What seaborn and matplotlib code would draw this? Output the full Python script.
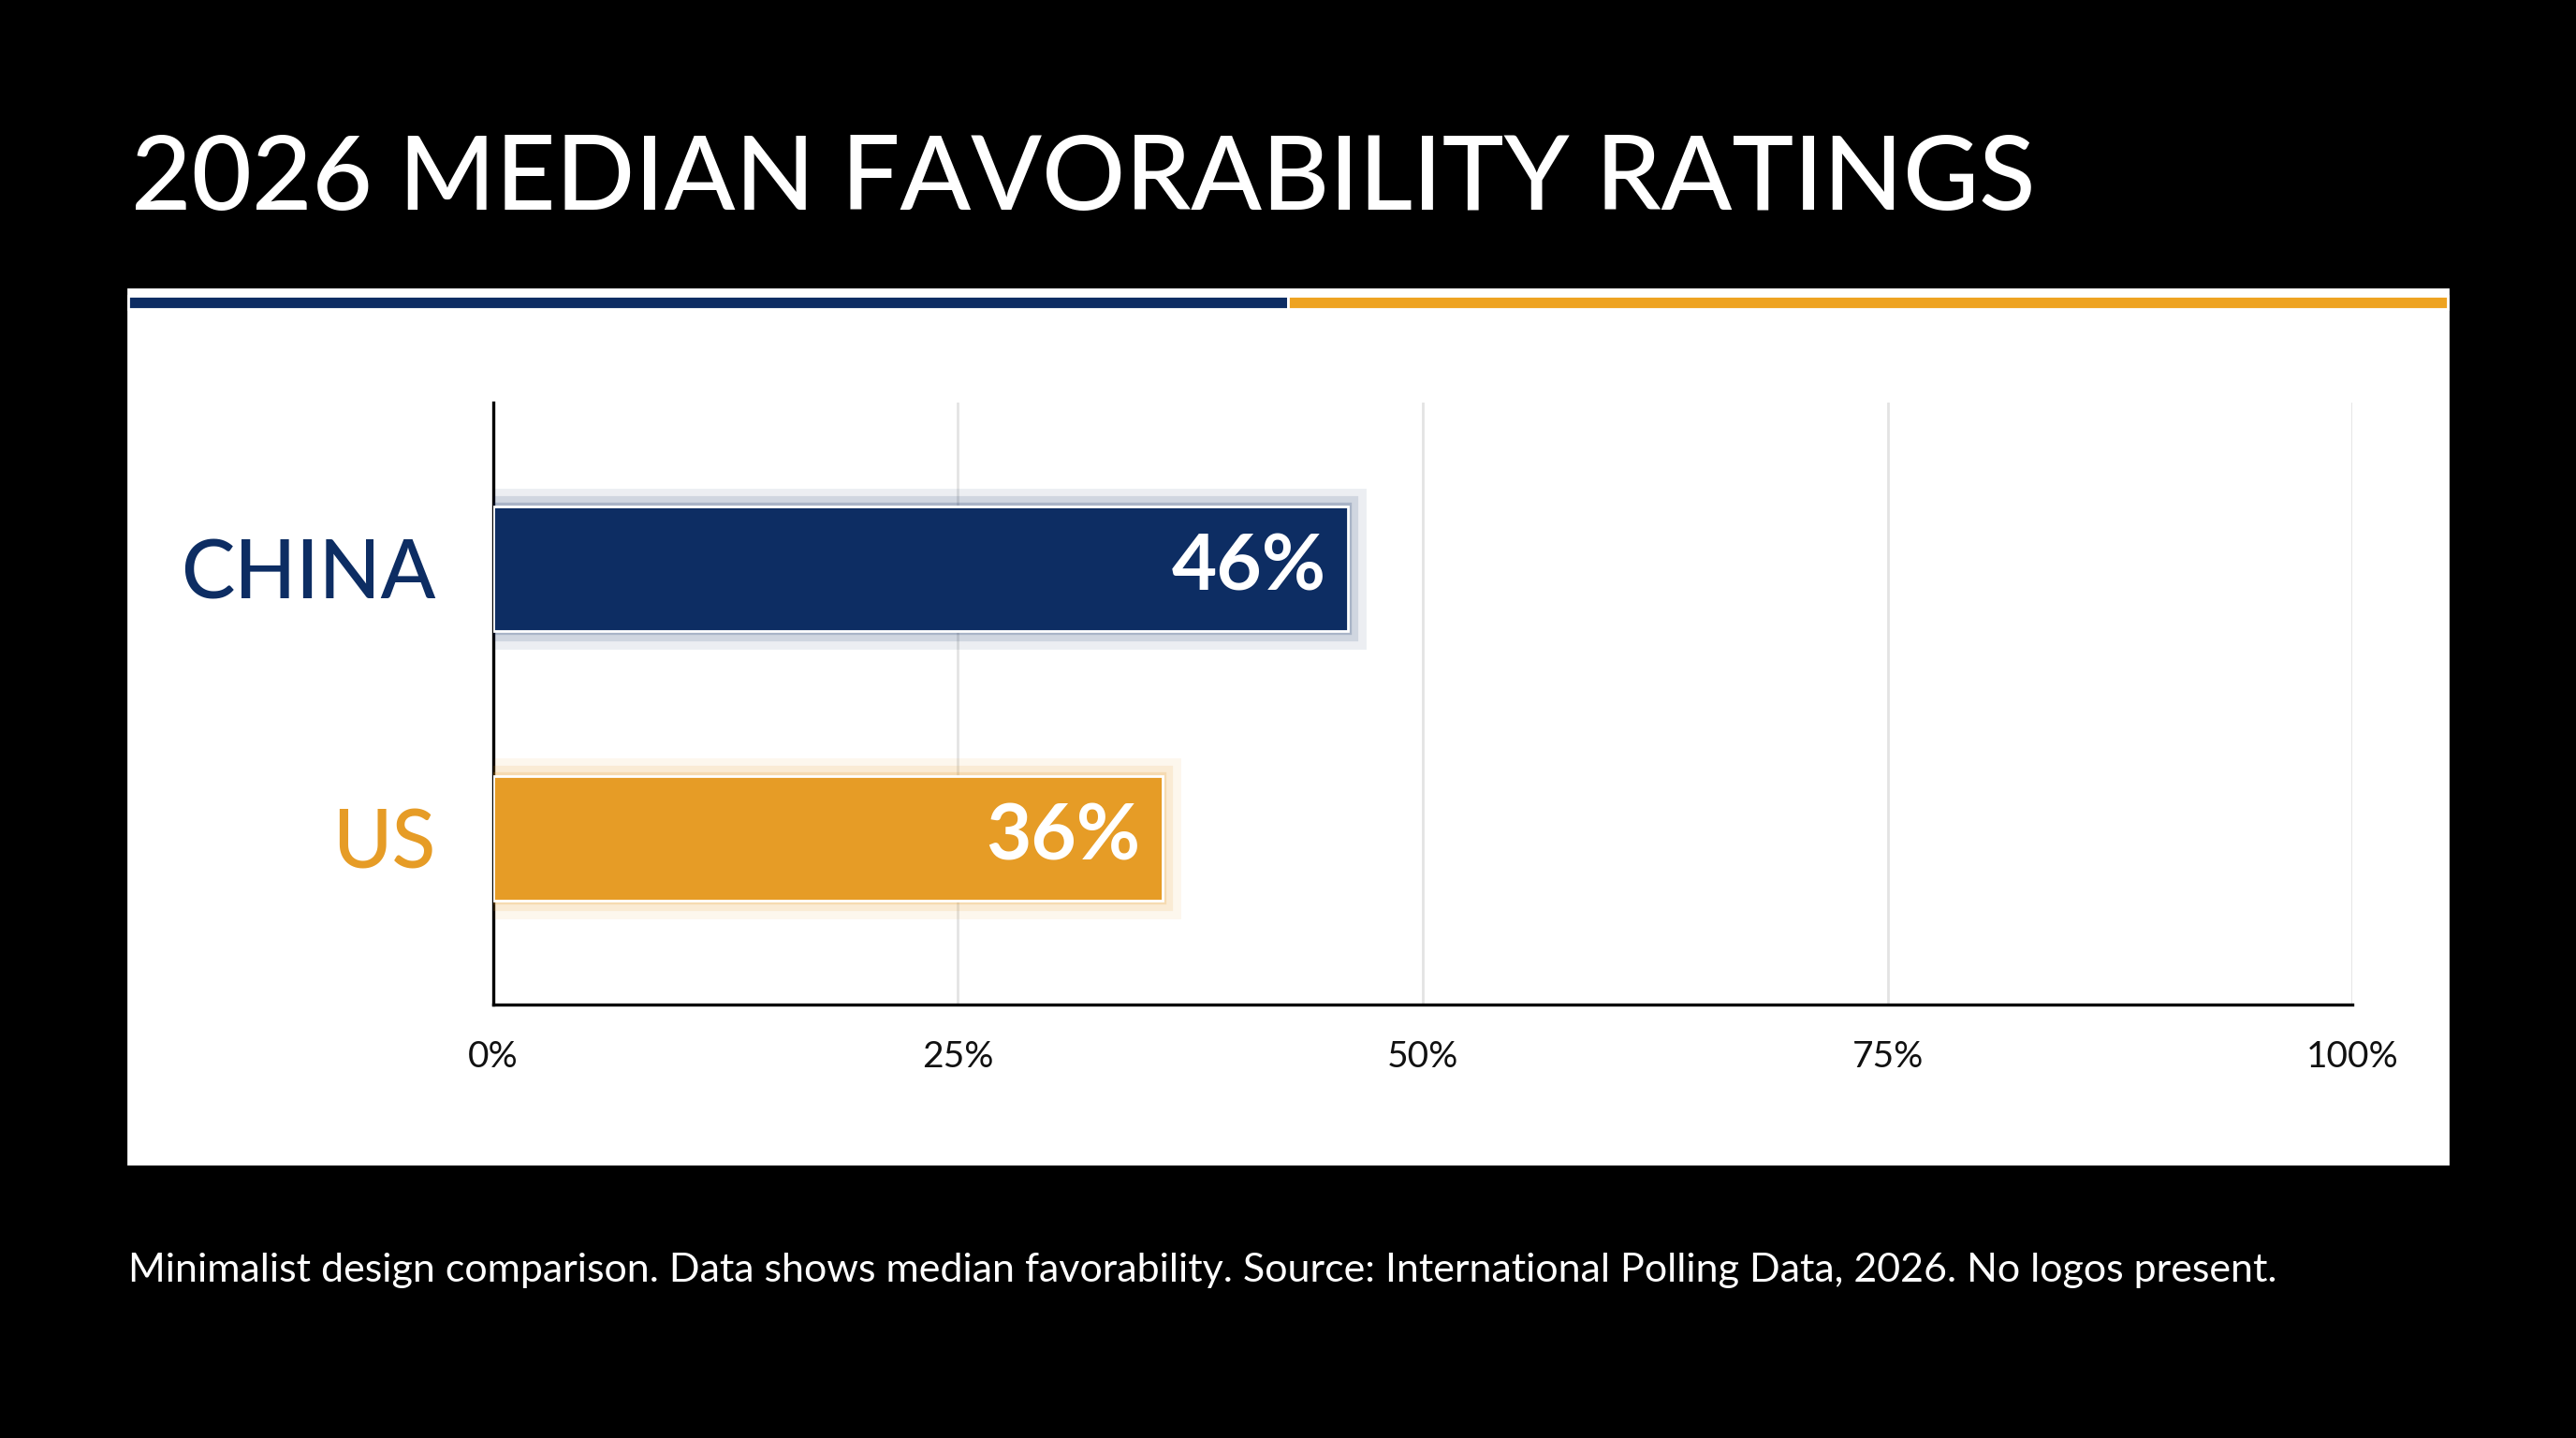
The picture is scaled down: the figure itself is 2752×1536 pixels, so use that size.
import matplotlib
matplotlib.use("Agg")
import matplotlib.pyplot as plt
import matplotlib.patheffects as pe
from matplotlib.patches import Rectangle
import seaborn as sns
import pandas as pd

categories = ["CHINA", "US"]
values = [46, 36]
colors = ["#0d2d63", "#e69c26"]
ticks = [0, 25, 50, 75, 100]
tick_labels = ["0%", "25%", "50%", "75%", "100%"]
title = "2026 MEDIAN FAVORABILITY RATINGS"
footer = "Minimalist design comparison. Data shows median favorability. Source: International Polling Data, 2026. No logos present."

sns.set_style("white")
plt.rcParams['font.family'] = ['Lato', 'DejaVu Sans']

fig = plt.figure(figsize=(13.76, 7.68), dpi=200)
fig.patch.set_facecolor("black")
W, H = 1568, 875
def fx(x): return x / W
def fy(y): return 1 - y / H

fig.patches.append(Rectangle((fx(78), fy(708)), fx(1490) - fx(78), fy(176) - fy(708),
                             transform=fig.transFigure, facecolor="white", zorder=-2))
fig.patches.append(Rectangle((fx(78), fy(188)), fx(784) - fx(78), fy(180) - fy(188),
                             transform=fig.transFigure, facecolor="#0d2d63", zorder=-1))
fig.patches.append(Rectangle((fx(784), fy(188)), fx(1490) - fx(784), fy(180) - fy(188),
                             transform=fig.transFigure, facecolor="#eea321", zorder=-1))

fig.text(fx(80), fy(110), title, color="white", fontsize=40, fontweight="medium", va="center", ha="left")
fig.text(fx(78), fy(773), footer, color="white", fontsize=15.5, va="center", ha="left")

ax = fig.add_axes([fx(300), fy(611), fx(1432) - fx(300), fy(245) - fy(611)])
ax.set_facecolor("none")
df = pd.DataFrame({"cat": categories, "val": values})
sns.barplot(data=df, x="val", y="cat", hue="cat", palette=colors, orient="h",
            width=0.463, ax=ax, legend=False, saturation=1)
for p, c in zip(ax.patches, colors):
    p.set_path_effects([pe.Stroke(linewidth=14, foreground=c, alpha=0.08),
                        pe.Stroke(linewidth=8, foreground=c, alpha=0.12),
                        pe.Stroke(linewidth=3, foreground=c, alpha=0.2),
                        pe.Normal()])
    p.set_zorder(3)
for i, v in enumerate(values):
    ax.text(v - 1.2, i, f"{v}%", color="white", fontsize=30, fontweight="bold",
            ha="right", va="center", zorder=5)

ax.set_xlim(0, 100)
ax.set_ylim(1.616, -0.616)
ax.set_xticks(ticks)
ax.set_xticklabels(tick_labels, fontsize=14)
ax.tick_params(axis="x", length=0, pad=14, colors="#111111")
ax.set_yticks([0, 1])
ax.set_yticklabels(categories, fontsize=31, fontweight="medium")
for lbl, c in zip(ax.get_yticklabels(), colors):
    lbl.set_color(c)
ax.tick_params(axis="y", length=0, pad=22)
ax.set_xlabel(""); ax.set_ylabel("")
ax.grid(axis="x", color="#e3e3e3", linewidth=1)
ax.set_axisbelow(True)
for s in ["top", "right"]:
    ax.spines[s].set_visible(False)
for s in ["left", "bottom"]:
    ax.spines[s].set_color("black"); ax.spines[s].set_linewidth(1.2)

fig.savefig("out.png", dpi=200, facecolor="black")
